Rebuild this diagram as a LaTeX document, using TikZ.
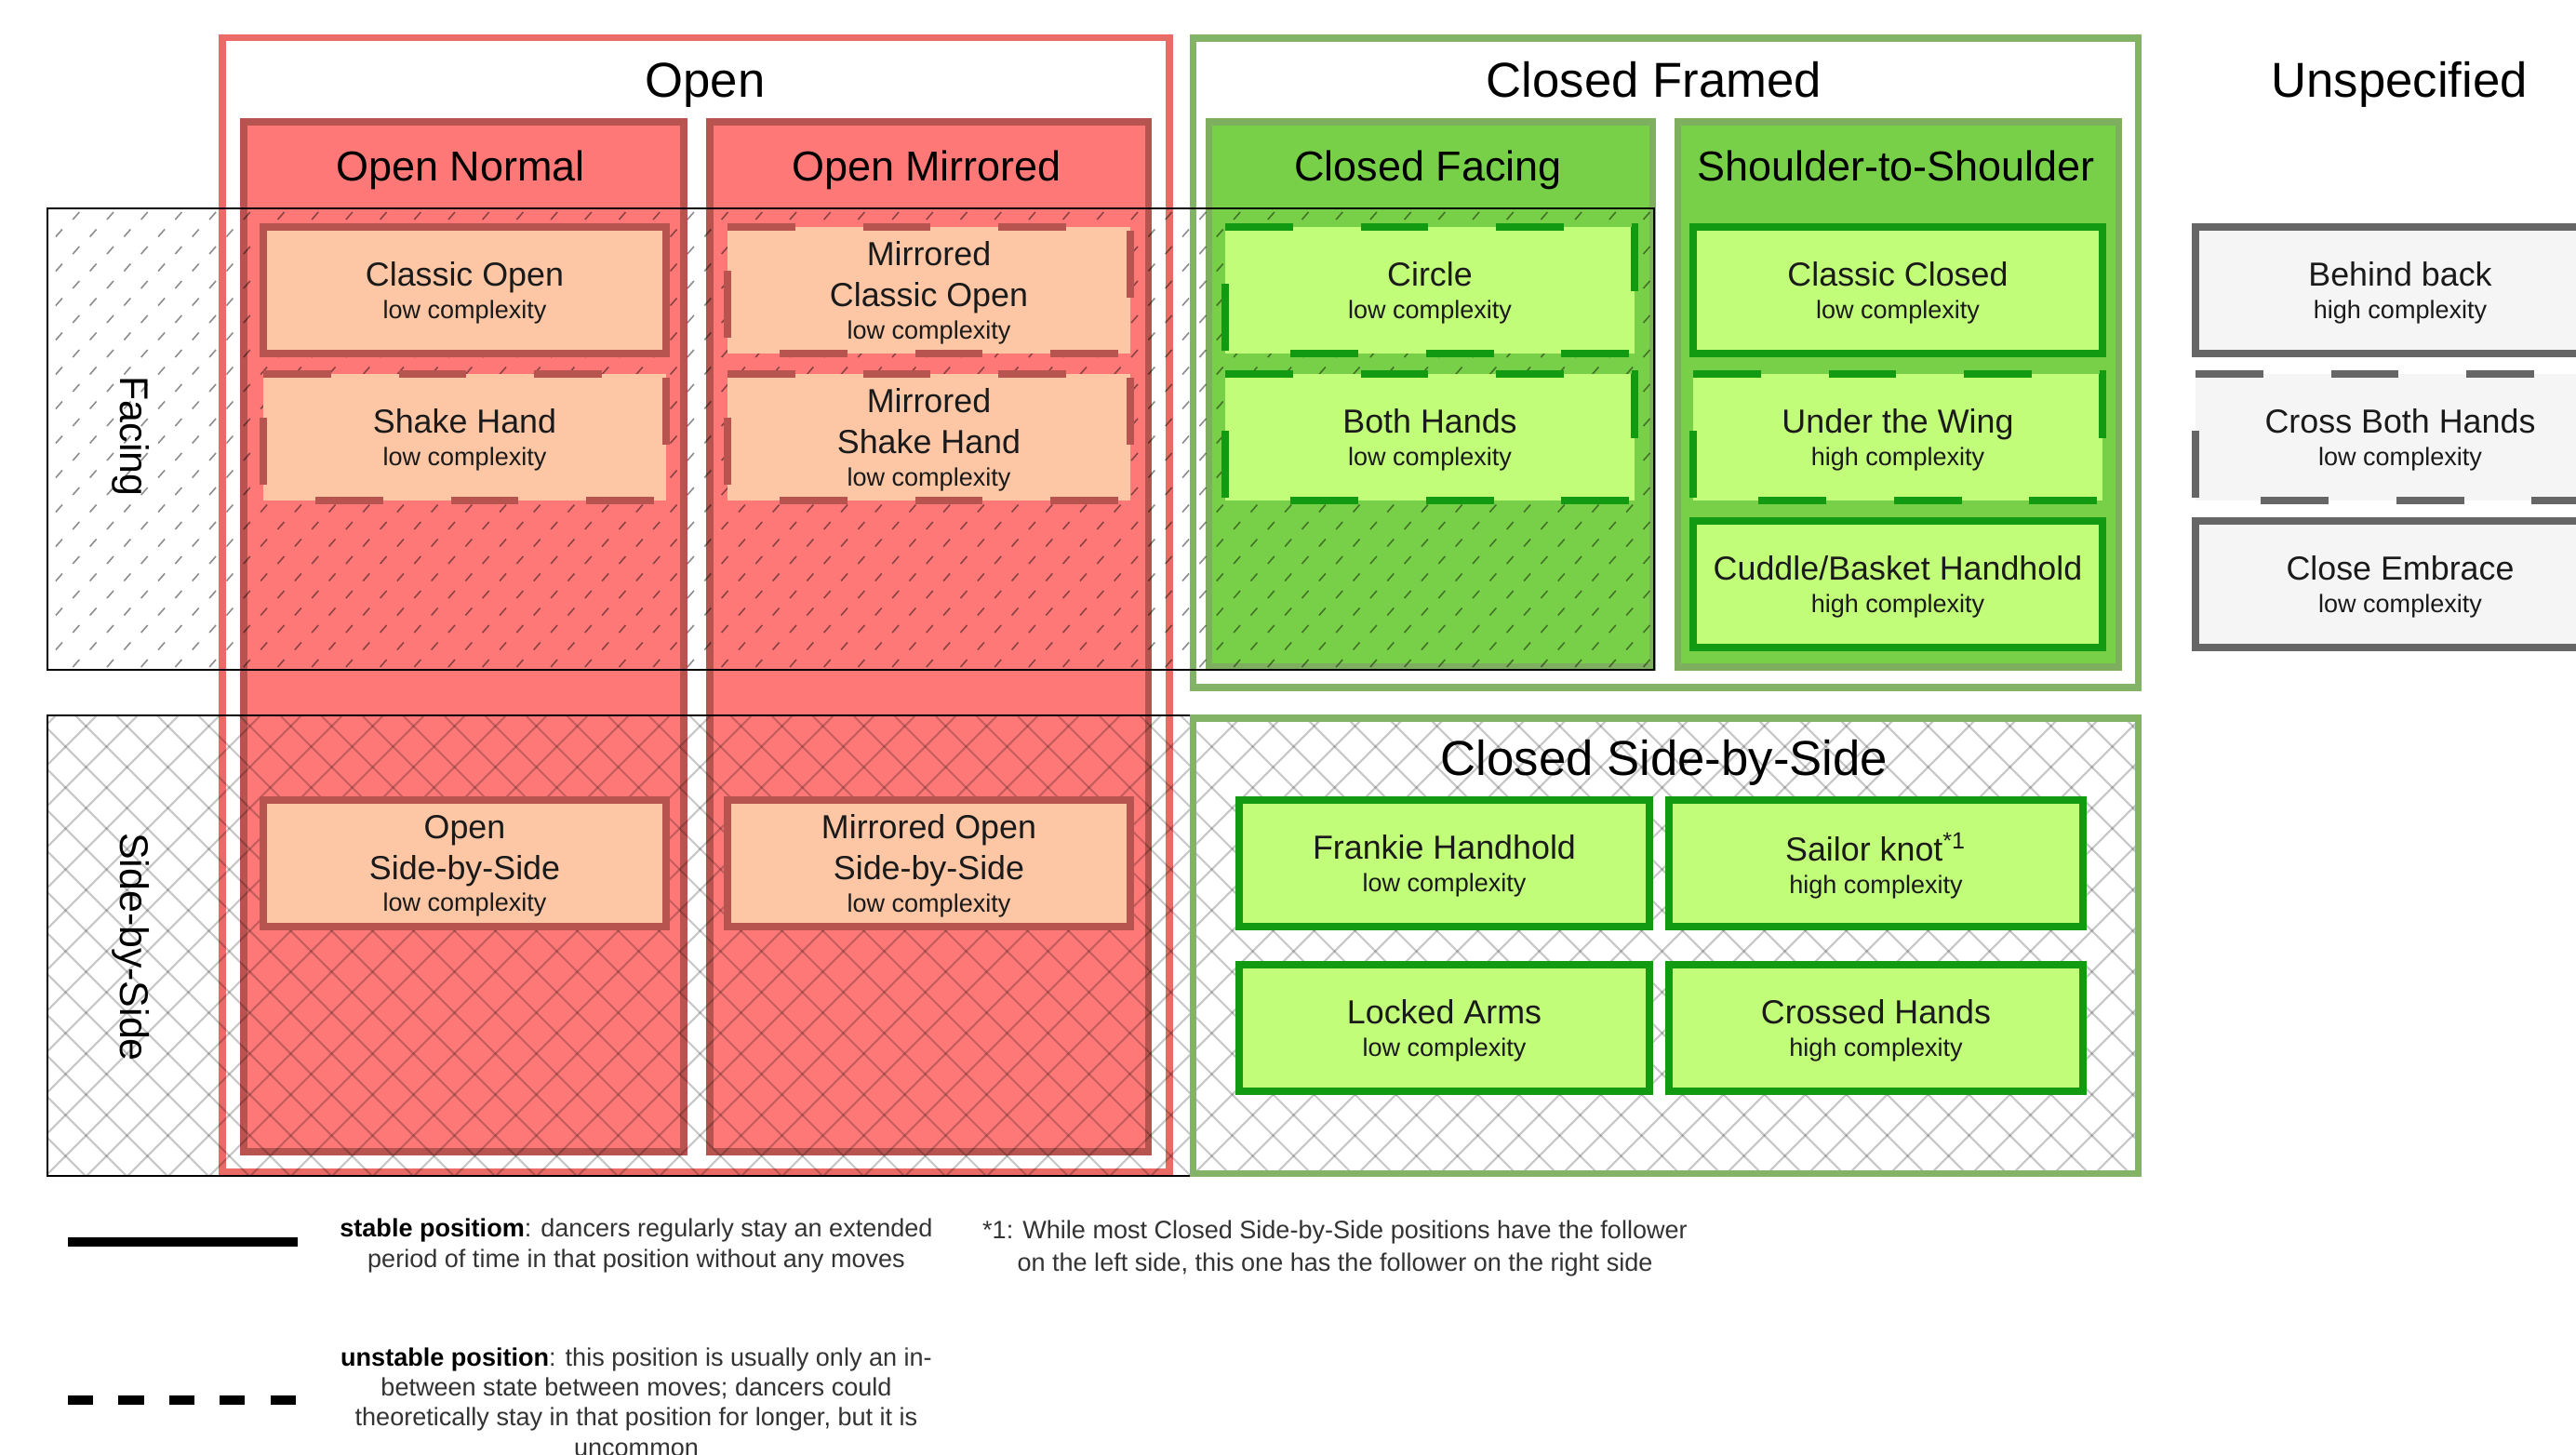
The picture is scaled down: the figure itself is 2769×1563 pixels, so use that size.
\documentclass[tikz,border=0pt]{standalone}
\usepackage{fontspec}
\setmainfont{Liberation Sans}
\definecolor{openBorder}{HTML}{EA6B66}
\definecolor{colRed}{HTML}{FE7878}
\definecolor{colRedBorder}{HTML}{B85450}
\definecolor{peach}{HTML}{FDC7A6}
\definecolor{greenBorder}{HTML}{82B366}
\definecolor{colGreen}{HTML}{78D048}
\definecolor{colGreenBorder}{HTML}{7DAF5E}
\definecolor{boxGreen}{HTML}{C2FD7A}
\definecolor{boxGreenBorder}{HTML}{139A13}
\definecolor{grayFill}{HTML}{F5F5F5}
\definecolor{grayBorder}{HTML}{666666}
\definecolor{textDark}{HTML}{1A1A1A}
\definecolor{textGray}{HTML}{333333}
\newcommand{\cpx}[1]{\\[-2.6pt]{\fontsize{7.7}{9}\selectfont #1}}
\begin{document}
\begin{tikzpicture}[x=0.1mm, y=-0.1mm,
  every node/.style={inner sep=0pt, outer sep=0pt},
  bigtitle/.style={font=\fontsize{15}{18}\selectfont, text=black, anchor=base},
  coltitle/.style={font=\fontsize{12.8}{15}\selectfont, text=black, anchor=base},
  sidelabel/.style={font=\fontsize{12.2}{14}\selectfont, text=black, rotate=-90},
  myframe/.style={rectangle, line width=2pt},
  redframe/.style={myframe, draw=openBorder, fill=white},
  greenframe/.style={myframe, draw=greenBorder, fill=white},
  redcol/.style={myframe, draw=colRedBorder, fill=colRed},
  greencol/.style={myframe, draw=colGreenBorder, fill=colGreen},
  posbox/.style={rectangle, minimum height=13.6mm, align=center, line width=2.2pt, text depth=0pt, font=\fontsize{10.2}{12.5}\selectfont, text=textDark},
  redpos/.style={posbox, fill=peach, draw=colRedBorder},
  redposd/.style={posbox, fill=peach},
  greenpos/.style={posbox, fill=boxGreen, draw=boxGreenBorder},
  greenposd/.style={posbox, fill=boxGreen},
  graypos/.style={posbox, fill=grayFill, draw=grayBorder},
  grayposd/.style={posbox, fill=grayFill},
  dashedge/.style={line width=2.2pt, dash pattern=on 20.7pt off 20.7pt},
  bandline/.style={draw=black, line width=0.5pt},
  hatchmark/.style={draw=black, draw opacity=0.45, line width=0.45pt},
  crossline/.style={draw=black, draw opacity=0.22, line width=0.6pt},
  legendtext/.style={align=center, font=\fontsize{7.7}{9.5}\selectfont, text=textGray},
]
\fill[white] (0,0) rectangle (2769,1563);
\useasboundingbox (0,0) rectangle (2769,1563);

% outer frames
\node[redframe, minimum width=101.8mm, minimum height=121.9mm] (openF) at (748,650) {};
\node[greenframe, minimum width=101.6mm, minimum height=69.8mm] (closedF) at (1790,390) {};
\node[greenframe, minimum width=101.6mm, minimum height=48.9mm] (csbs) at (1790,1016.5) {};

% columns
\node[redcol, minimum width=47.3mm, minimum height=110.7mm] (onorm) at (498.5,684.5) {};
\node[redcol, minimum width=47.1mm, minimum height=110.7mm] (omirr) at (998.5,684.5) {};
\node[greencol, minimum width=47.7mm, minimum height=58.6mm] (cfac) at (1537.5,424) {};
\node[greencol, minimum width=47.4mm, minimum height=58.6mm] (sts) at (2040,424) {};

% facing hatch
\begin{scope}
\clip (51,224) rectangle (1778,720);
\foreach \r in {0,...,26}{
  \pgfmathsetmacro\yy{232+18.5*\r}
  \pgfmathsetmacro\off{mod(\r,2)*18.35}
  \foreach \k in {-7,...,41}{
    \draw[hatchmark] ({302+36.7*\k+\off-3.5},{\yy+4}) -- ++(7,-8);
  }
}
\end{scope}

% side-by-side crosshatch
\begin{scope}
\clip (51,769) rectangle (1280,1264) (1282,772) rectangle (2298,1261);
\foreach \a in {-1260,-1216,...,2800}{
  \draw[crossline] (\a+769,769) -- (\a+1264,1264);
  \draw[crossline] (\a,769) -- (\a-495,1264);
}
\end{scope}

% band borders
\draw[bandline] (51,224) rectangle (1778,720);
\draw[bandline] (51,769) rectangle (1280,1264);
\draw[greenBorder, line width=2pt] (csbs.north west) rectangle (csbs.south east);

% titles
\node[bigtitle] (tOpen) at (758,104) {Open};
\node[bigtitle] (tCF) at (1778,104) {Closed Framed};
\node[bigtitle] (tUn) at (2579,104) {Unspecified};
\node[coltitle] (tON) at (495,194) {Open Normal};
\node[coltitle] (tOM) at (996,194) {Open Mirrored};
\node[coltitle] (tCFa) at (1535,194) {Closed Facing};
\node[coltitle] (tSS) at (2038,194) {Shoulder-to-Shoulder};
\node[bigtitle] (tCSS) at (1789,833) {Closed Side-by-Side};
\node[sidelabel] (lFacing) at (141,469) {Facing};
\node[sidelabel] (lSide) at (141,1018) {Side-by-Side};

% Open Normal
\node[redpos, minimum width=43.3mm] (classicopen) at (499.5,312) {Classic Open\cpx{low complexity}};
\node[redposd, minimum width=43.3mm] (shake) at (499.5,470) {Shake Hand\cpx{low complexity}};
\node[redpos, minimum width=43.3mm] (opensbs) at (499.5,928) {Open\\Side-by-Side\cpx{low complexity}};
% Open Mirrored
\node[redposd, minimum width=43.3mm] (mclassic) at (998.5,312) {Mirrored\\Classic Open\cpx{low complexity}};
\node[redposd, minimum width=43.3mm] (mshake) at (998.5,470) {Mirrored\\Shake Hand\cpx{low complexity}};
\node[redpos, minimum width=43.3mm] (mopensbs) at (998.5,928) {Mirrored Open\\Side-by-Side\cpx{low complexity}};
% Closed Facing
\node[greenposd, minimum width=44mm] (circle) at (1537,312) {Circle\cpx{low complexity}};
\node[greenposd, minimum width=44mm] (both) at (1537,470) {Both Hands\cpx{low complexity}};
% Shoulder-to-Shoulder
\node[greenpos, minimum width=44mm] (cclosed) at (2040,312) {Classic Closed\cpx{low complexity}};
\node[greenposd, minimum width=44mm] (wing) at (2040,470) {Under the Wing\cpx{high complexity}};
\node[greenpos, minimum width=44mm] (cuddle) at (2040,628) {Cuddle/Basket Handhold\cpx{high complexity}};
% Closed Side-by-Side
\node[greenpos, minimum width=44.1mm] (frankie) at (1552.5,928) {Frankie Handhold\cpx{low complexity}};
\node[greenpos, minimum width=44.5mm] (sailor) at (2016.5,928) {Sailor knot\textsuperscript{*1}\cpx{high complexity}};
\node[greenpos, minimum width=44.1mm] (locked) at (1552.5,1105) {Locked Arms\cpx{low complexity}};
\node[greenpos, minimum width=44.5mm] (crossed) at (2016.5,1105) {Crossed Hands\cpx{high complexity}};
% Unspecified
\node[graypos, minimum width=44mm] (behind) at (2580,312) {Behind back\cpx{high complexity}};
\node[grayposd, minimum width=44mm] (crossboth) at (2580,470) {Cross Both Hands\cpx{low complexity}};
\node[graypos, minimum width=44mm] (embrace) at (2580,628) {Close Embrace\cpx{low complexity}};

% dashed borders
\foreach \n in {shake, mclassic, mshake}
  \draw[dashedge, draw=colRedBorder] (\n.north west) -- (\n.north east) -- (\n.south east) -- (\n.south west) -- cycle;
\foreach \n in {circle, both, wing}
  \draw[dashedge, draw=boxGreenBorder] (\n.north west) -- (\n.north east) -- (\n.south east) -- (\n.south west) -- cycle;
\draw[dashedge, draw=grayBorder] (crossboth.north west) -- (crossboth.north east) -- (crossboth.south east) -- (crossboth.south west) -- cycle;

% legend
\coordinate (ls1) at (73,1335);
\coordinate (ls2) at (320,1335);
\draw[line width=2.6pt] (ls1) -- (ls2);
\coordinate (ld1) at (73,1505);
\coordinate (ld2) at (320,1505);
\draw[line width=2.8pt, dash pattern=on 7.7pt off 7.8pt] (ld1) -- (ld2);
\node[legendtext] (stabletxt) at (684,1339) {\textbf{\color{black}stable positiom}: dancers regularly stay an extended\\period of time in that position without any moves};
\node[legendtext, font=\fontsize{7.7}{9.2}\selectfont] (unstabletxt) at (684,1507) {\textbf{\color{black}unstable position}: this position is usually only an in-\\between state between moves; dancers could\\theoretically stay in that position for longer, but it is\\uncommon};
\node[legendtext, font=\fontsize{7.7}{9.7}\selectfont] (footnote) at (1435,1342) {*1: While most Closed Side-by-Side positions have the follower\\on the left side, this one has the follower on the right side};
\end{tikzpicture}
\end{document}
